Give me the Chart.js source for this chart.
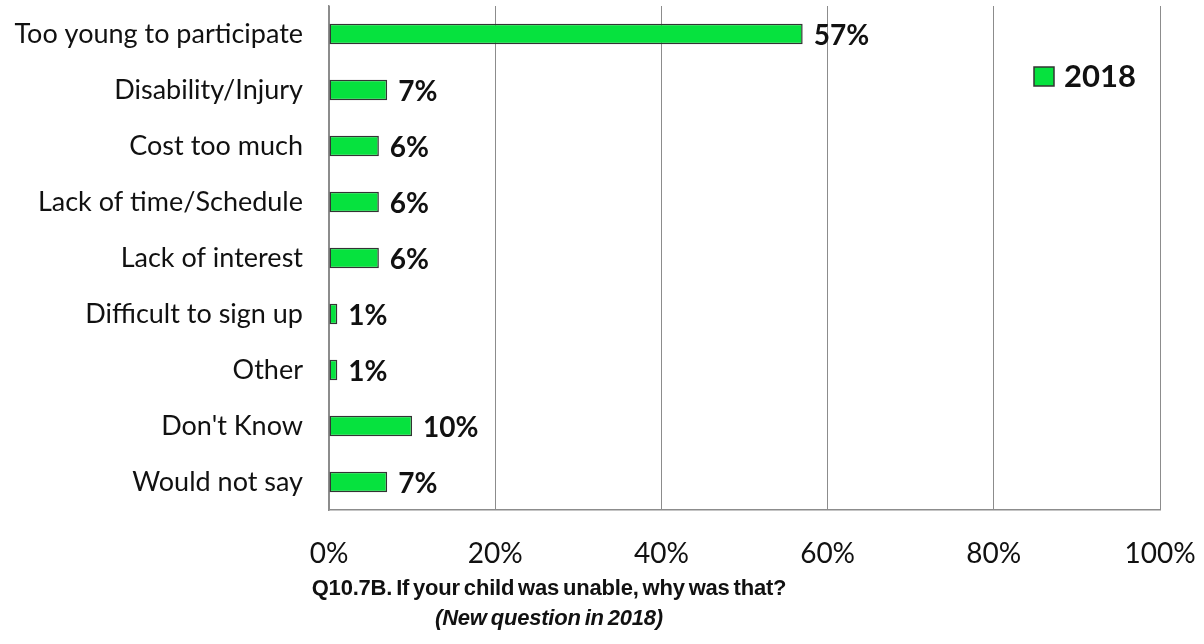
<!DOCTYPE html>
<html>
<head>
<meta charset="utf-8">
<script src="https://cdn.jsdelivr.net/npm/chart.js@4.4.1/dist/chart.umd.min.js"></script>
<style>
  html, body { margin: 0; padding: 0; background: #fff; }
  #wrap { position: relative; width: 1204px; height: 644px; }
  #chart { position: absolute; left: 0; top: 0; }
  .caption {
    position: absolute; left: 0; width: 1098px; text-align: center;
    font-family: "Liberation Sans", Arial, sans-serif; font-weight: bold;
    font-size: 22px; color: #111; letter-spacing: -0.2px; word-spacing: -2px;
  }
  #q1 { top: 575px; }
  #q2 { top: 605px; font-style: italic; }
</style>
</head>
<body>
<div id="wrap">
  <canvas id="chart" width="1204" height="644"></canvas>
  <div class="caption" id="q1">Q10.7B. If your child was unable, why was that?</div>
  <div class="caption" id="q2">(New question in 2018)</div>
</div>
<script>
const reasons = [
  'Too young to participate',
  'Disability/Injury',
  'Cost too much',
  'Lack of time/Schedule',
  'Lack of interest',
  'Difficult to sign up',
  'Other',
  "Don't Know",
  'Would not say'
];
const pct2018 = [57, 7, 6, 6, 6, 1, 1, 10, 7];
const xTicks = [0, 20, 40, 60, 80, 100];

const FONT = 'Lato, "Open Sans", sans-serif';
const GREEN = '#06e23e';

// bold value label to the right of each bar
const valueLabels = {
  id: 'valueLabels',
  afterDatasetsDraw(chart) {
    const ctx = chart.ctx;
    const meta = chart.getDatasetMeta(0);
    ctx.save();
    ctx.font = 'bold 28px ' + FONT;
    ctx.fillStyle = '#111';
    ctx.textAlign = 'left';
    ctx.textBaseline = 'middle';
    meta.data.forEach((bar, i) => {
      ctx.fillText(pct2018[i] + '%', bar.x + 11, bar.y + 2);
    });
    ctx.restore();
  }
};

// single-entry legend inside the plot, top right
const cornerLegend = {
  id: 'cornerLegend',
  afterDraw(chart) {
    const ctx = chart.ctx;
    const ds = chart.data.datasets[0];
    ctx.save();
    ctx.fillStyle = ds.backgroundColor;
    ctx.strokeStyle = '#333';
    ctx.lineWidth = 1.5;
    ctx.fillRect(1034, 67, 20, 19);
    ctx.strokeRect(1034, 67, 20, 19);
    ctx.font = 'bold 31px ' + FONT;
    ctx.fillStyle = '#111';
    ctx.textBaseline = 'middle';
    ctx.fillText(ds.label, 1064, 77);
    ctx.restore();
  }
};

// keep the plot box fixed: no extra room for overhanging tick labels
function noPad(axis) {
  axis.paddingTop = 0;
  axis.paddingBottom = 0;
  axis.paddingLeft = 0;
  axis.paddingRight = 0;
}

new Chart(document.getElementById('chart'), {
  type: 'bar',
  data: {
    labels: reasons,
    datasets: [{
      label: '2018',
      data: pct2018,
      backgroundColor: GREEN,
      borderColor: '#333',
      borderWidth: 1.5,
      borderSkipped: false,
      barPercentage: 0.37,
      categoryPercentage: 1
    }]
  },
  options: {
    indexAxis: 'y',
    responsive: false,
    animation: false,
    layout: { padding: { top: 6, right: 44, left: 0, bottom: 0 } },
    plugins: {
      legend: { display: false },
      tooltip: { enabled: false }
    },
    scales: {
      x: {
        min: 0, max: 100,
        afterBuildTicks(axis) { axis.ticks = xTicks.map(v => ({ value: v })); },
        afterFit(axis) { axis.height = 134; noPad(axis); },
        grid: { color: '#8c8c8c', lineWidth: 1, drawTicks: false },
        border: { color: '#8c8c8c', width: 1.5 },
        ticks: {
          padding: 27,
          color: '#111',
          font: { family: FONT, size: 28 },
          callback: v => v + '%'
        }
      },
      y: {
        afterFit(axis) { axis.width = 329; noPad(axis); },
        grid: { display: false, drawTicks: false },
        border: { color: '#8c8c8c', width: 1.5 },
        ticks: {
          padding: 26,
          color: '#111',
          font: { family: FONT, size: 27 }
        }
      }
    }
  },
  plugins: [valueLabels, cornerLegend]
});
</script>
</body>
</html>
